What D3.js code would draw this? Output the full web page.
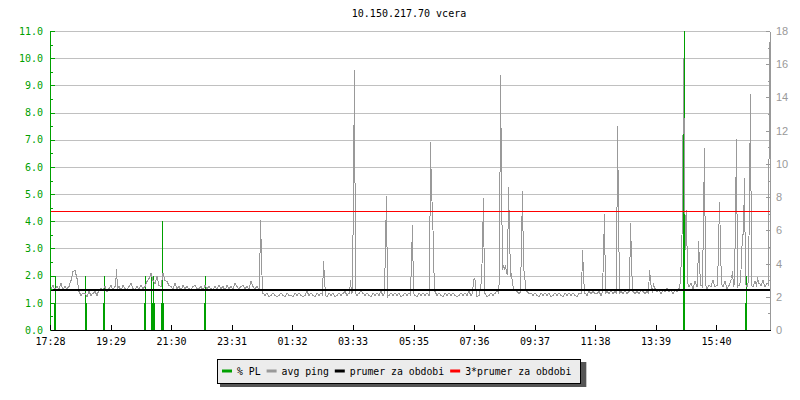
<!DOCTYPE html>
<html>
<head>
<meta charset="utf-8">
<script src="https://cdn.jsdelivr.net/npm/d3@7"></script>
<style>
  body { margin: 0; background: #fff; }
  svg { display: block; font-family: "DejaVu Sans Mono", monospace; font-size: 10px; }
</style>
</head>
<body>
<div class="stage"></div>
<script>
// chart data
var title = "10.150.217.70 vcera";
var startTime = "17:28";
var xTickLabels = ["17:28","19:29","21:30","23:31","01:32","03:33","05:35","07:36","09:37","11:38","13:39","15:40"];
var plTicks = [0,1,2,3,4,5,6,7,8,9,10,11];
var pingTicks = [0,2,4,6,8,10,12,14,16,18];

// % packet loss: minutes after start, value in %
var plMinutes = [8,10,70,72,106,108,188,190,202,204,206,208,222,224,226,308,310,1266,1268,1390,1392];
var plValues  = [1,2,2,1,1,2,1,2,2,1,2,1,1,4,1,1,2,10,11,1,2];

// avg ping, one value per 4 minutes (ms)
var pingBase = [
  2.5,2.7,2.4,2.6,2.5,2.8,2.4,2.6,2.5,2.6,
  3.0,3.5,3.6,3.1,
  2.3,2.1,2.2,2.2,2.0,2.3,2.1,2.2,2.3,2.1,2.4,
  2.5,2.4,2.6,2.3,2.5,2.7,2.4,2.6,
  2.5,2.6,2.4,2.7,2.5,2.4,2.6,2.8,2.5,2.4,2.6,2.5,2.7,2.5,2.6,
  2.9,3.1,3.4,3.0,2.8,3.2,2.7,2.6,3.4,3.0,2.9,2.7,
  2.6,2.5,2.8,2.5,2.6,2.4,2.7,2.5,2.6,2.5,2.4,2.6,2.7,2.5,2.5,2.6,2.4,2.7,2.5,2.6,2.5,2.4,2.6,2.5,2.7,
  2.5,2.6,2.4,2.7,2.5,2.6,2.5,2.8,2.6,2.5,2.6,2.7,2.5,2.6,2.5,2.9,2.6,2.5,2.6,2.5,
  2.3,2.2,2.1,2.2,2.0,2.1,2.2,2.1,2.0,2.1,
  2.2,2.1,2.0,2.2,2.1,2.1,2.0,2.2,2.1,2.2,
  2.1,2.0,2.1,2.3,2.1,2.2,2.1,2.0,2.2,2.1,
  2.2,2.1,2.1,2.0,2.2,2.1,2.2,2.0,2.1,2.2,
  2.1,2.2,2.3,2.1,2.2,
  2.2,2.3,2.2,2.1,2.2,2.4,2.2,2.1,2.2,2.1,
  2.0,2.2,2.1,2.2,2.1,2.3,2.1,2.2,2.0,2.1,
  2.2,2.1,2.2,2.1,2.2,2.0,2.1,2.2,2.1,2.2,
  2.1,2.2,2.1,2.0,2.2,2.1,2.2,2.1,2.2,2.1,
  2.2,2.1,2.3,2.1,2.2,2.1,2.0,2.2,2.1,2.2,
  2.1,2.2,2.1,2.0,2.1,2.2,2.1,2.2,2.1,2.3,
  2.1,2.2,2.1,2.0,2.1,2.2,2.1,2.2,2.0,2.1,
  2.2,2.1,2.2,2.4,2.2,
  2.4,2.6,3.0,3.2,3.4,2.8,2.6,2.4,2.3,2.2,2.3,2.2,2.6,2.3,2.2,
  2.2,2.1,2.2,2.1,2.0,2.2,2.1,2.2,2.1,2.2,2.0,2.1,2.2,2.1,2.2,2.1,2.0,2.2,2.1,2.2,2.1,2.2,2.1,2.0,2.2,
  2.2,2.3,2.2,2.1,2.3,2.2,2.3,2.2,2.2,2.3,
  2.1,2.3,2.2,2.3,2.2,2.4,2.2,2.3,2.2,2.2,
  2.3,2.2,2.4,2.2,2.3,2.1,2.3,2.2,2.3,2.2,
  2.4,2.3,2.2,2.3,2.2,
  2.4,2.3,2.5,2.3,2.4,2.2,2.4,2.3,2.5,2.3,2.4,2.2,2.4,2.3,2.5,
  3.0,3.6,3.2,3.0,2.6,2.8,2.5,2.9,2.6,2.5,
  2.7,2.6,2.8,2.5,2.7,2.6,3.0,2.6,2.7,2.5,
  2.8,2.6,2.9,2.5,2.7,3.1,2.6,2.8,2.6,2.7,
  2.9,2.6,2.8,2.6,3.0,2.7,2.6,2.9,2.6,2.8,
  2.7,3.0,2.6,2.8,2.7
];
// avg ping peaks: minutes after start, value (ms)
var pingSpikeMinutes = [132,420,422,546,548,600,606,608,670,672,722,724,760,762,764,766,
  846,848,850,860,862,864,866,898,900,902,904,906,908,910,912,914,916,918,920,922,924,926,
  942,944,946,948,950,1064,1066,1106,1108,1134,1136,1160,1162,1198,1200,1206,
  1262,1264,1266,1268,1270,1272,1296,1298,1306,1308,1336,1338,1340,1360,1364,
  1370,1372,1382,1384,1386,1388,1398,1400,1414,1438];
var pingSpikeValues = [3.7,6.6,4.45,4.15,3.15,3.0,8.87,15.65,5.18,8.07,4.2,6.3,11.3,8.2,7.3,4.7,
  3.0,3.1,2.95,2.65,2.9,5.05,7.95,3.2,15.35,9.23,3.6,3.9,3.7,3.9,3.5,3.3,8.6,6.0,3.2,3.4,2.8,2.5,
  5.25,8.35,3.7,3.4,2.6,4.8,3.4,4.55,6.98,12.3,7.2,6.45,4.3,3.6,3.07,2.8,
  4.55,6.86,16.4,9.23,4.8,7.2,5.35,4.05,6.86,10.97,5.0,7.73,5.07,2.9,3.55,
  6.86,11.5,4.33,5.7,5.8,9.15,8.2,14.2,3.2,17.35];
var avgPing = 2.39;

var legendNames = ["% PL", "avg ping", "prumer za obdobi", "3*prumer za obdobi"];
var legendColors = ["#00a000", "#999999", "#000000", "#ff0000"];

var width = 800, height = 400;
var plotLeft = 50, plotRight = 770, plotTop = 31, plotBottom = 330;

var svg = d3.select(".stage").append("svg")
  .attr("width", width)
  .attr("height", height);

var parseHM = d3.timeParse("%H:%M");
var t0 = parseHM(startTime);
var t1 = d3.timeMinute.offset(t0, 1440);
function minuteToDate(m) { return d3.timeMinute.offset(t0, m); }

var x = d3.scaleTime().domain([t0, t1]).range([plotLeft, plotRight]);
var yl = d3.scaleLinear().domain([0, 11]).range([plotBottom, plotTop]);
var yr = d3.scaleLinear().domain([0, 18]).range([plotBottom, plotTop]);

// tick dates from labels, rolling over midnight
var xTicks = xTickLabels.map(function(s) {
  var d = parseHM(s);
  if (d < t0) d = d3.timeDay.offset(d, 1);
  return d;
});

// ping series at 2 minute steps
var ping = [];
for (var i = 0; i < pingBase.length * 2; i++) {
  ping.push({ m: i * 2, v: pingBase[Math.floor(i / 2)] });
}
pingSpikeMinutes.forEach(function(m, j) {
  ping[m / 2].v = pingSpikeValues[j];
});

var pl = plMinutes.map(function(m, j) { return { m: m, v: plValues[j] }; });

// title
svg.append("text")
  .attr("x", 409)
  .attr("y", 17)
  .attr("text-anchor", "middle")
  .attr("fill", "#000")
  .text(title);

// grid
svg.append("g").selectAll("line")
  .data(plTicks.slice(1))
  .enter().append("line")
  .attr("x1", plotLeft).attr("x2", plotRight)
  .attr("y1", function(d) { return Math.round(yl(d)) + 0.5; })
  .attr("y2", function(d) { return Math.round(yl(d)) + 0.5; })
  .attr("stroke", "#c0c0c0")
  .attr("shape-rendering", "crispEdges");

// packet loss bars
svg.append("g").selectAll("rect")
  .data(pl)
  .enter().append("rect")
  .attr("x", function(d) { return Math.round(x(minuteToDate(d.m))); })
  .attr("width", 1)
  .attr("y", function(d) { return Math.round(yl(d.v)); })
  .attr("height", function(d) { return plotBottom - Math.round(yl(d.v)); })
  .attr("fill", legendColors[0])
  .attr("shape-rendering", "crispEdges");

// avg ping line
var pingLine = d3.line()
  .x(function(d) { return Math.round(x(minuteToDate(d.m))) + 0.5; })
  .y(function(d) { return yr(d.v); });

svg.append("path")
  .datum(ping)
  .attr("fill", "none")
  .attr("stroke", legendColors[1])
  .attr("stroke-width", 1)
  .attr("shape-rendering", "crispEdges")
  .attr("d", pingLine);

// average lines
svg.append("line")
  .attr("x1", plotLeft).attr("x2", plotRight)
  .attr("y1", Math.round(yr(avgPing)))
  .attr("y2", Math.round(yr(avgPing)))
  .attr("stroke", legendColors[2])
  .attr("stroke-width", 2)
  .attr("shape-rendering", "crispEdges");

svg.append("rect")
  .attr("x", plotLeft)
  .attr("y", Math.round(yr(3 * avgPing)))
  .attr("width", plotRight - plotLeft)
  .attr("height", 1)
  .attr("fill", legendColors[3])
  .attr("shape-rendering", "crispEdges");

// left axis (% PL)
var leftAxis = svg.append("g")
  .attr("transform", "translate(" + plotLeft + ",0)")
  .attr("shape-rendering", "crispEdges")
  .call(d3.axisLeft(yl).tickValues(plTicks).tickSizeInner(-5).tickSizeOuter(0)
    .tickPadding(7).tickFormat(d3.format(".1f")));
svg.append("g")
  .attr("transform", "translate(" + plotLeft + ",0)")
  .attr("shape-rendering", "crispEdges")
  .call(d3.axisLeft(yl).tickValues(plTicks.slice(0, -1).map(function(d) { return d + 0.5; }))
    .tickSizeInner(-3).tickSizeOuter(0).tickFormat(""))
  .call(function(g) { g.select(".domain").remove(); })
  .selectAll("line").attr("stroke", legendColors[0]);
leftAxis.select(".domain").attr("stroke", legendColors[0]);
leftAxis.selectAll(".tick line").attr("stroke", legendColors[0]);
leftAxis.selectAll("text")
  .attr("fill", legendColors[0])
  .attr("font-family", "DejaVu Sans Mono")
  .attr("font-size", 10);

// right axis (ping)
var rightAxis = svg.append("g")
  .attr("transform", "translate(" + plotRight + ",0)")
  .attr("shape-rendering", "crispEdges")
  .call(d3.axisRight(yr).tickValues(pingTicks).tickSizeInner(-4).tickSizeOuter(0)
    .tickPadding(6).tickFormat(d3.format("d")));
svg.append("g")
  .attr("transform", "translate(" + plotRight + ",0)")
  .attr("shape-rendering", "crispEdges")
  .call(d3.axisRight(yr).tickValues(pingTicks.slice(0, -1).map(function(d) { return d + 1; }))
    .tickSizeInner(-2).tickSizeOuter(0).tickFormat(""))
  .call(function(g) { g.select(".domain").remove(); })
  .selectAll("line").attr("stroke", "#999");
rightAxis.select(".domain").attr("stroke", "#999");
rightAxis.selectAll(".tick line").attr("stroke", "#999");
rightAxis.selectAll("text")
  .attr("fill", "#999")
  .attr("font-family", "Liberation Sans")
  .attr("font-size", 11);

// bottom axis (time)
var bottomAxis = svg.append("g")
  .attr("transform", "translate(0," + plotBottom + ")")
  .attr("shape-rendering", "crispEdges")
  .call(d3.axisBottom(x).tickValues(xTicks).tickSizeInner(-5).tickSizeOuter(0)
    .tickPadding(8).tickFormat(d3.timeFormat("%H:%M")));
bottomAxis.selectAll("text")
  .attr("fill", "#000")
  .attr("font-family", "DejaVu Sans Mono")
  .attr("font-size", 10);

// legend
var legend = svg.append("g");
var shadow = legend.append("rect").attr("fill", "#555");
var box = legend.append("rect").attr("fill", "#ececec").attr("stroke", "#000")
  .attr("shape-rendering", "crispEdges");
var lx = 222, ly = 371;
legendNames.forEach(function(name, j) {
  legend.append("line")
    .attr("x1", lx).attr("x2", lx + 10)
    .attr("y1", ly).attr("y2", ly)
    .attr("stroke", legendColors[j])
    .attr("stroke-width", 3);
  var t = legend.append("text")
    .attr("x", lx + 15)
    .attr("y", ly + 4)
    .attr("fill", "#000")
    .attr("font-size", 9.8)
    .text(name);
  lx = lx + 15 + t.node().getComputedTextLength() + 6;
});
box.attr("x", 217.5).attr("y", 359.5).attr("width", lx - 214).attr("height", 24);
shadow.attr("x", 220).attr("y", 362).attr("width", lx - 211).attr("height", 25);
</script>
</body>
</html>
